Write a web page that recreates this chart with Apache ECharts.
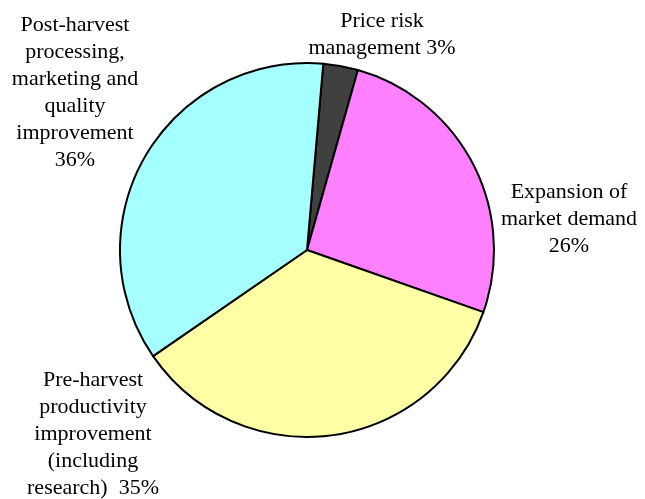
<!DOCTYPE html>
<html>
<head>
<meta charset="utf-8">
<script src="https://cdn.jsdelivr.net/npm/echarts@6/dist/echarts.min.js"></script>
<style>
  html, body { margin: 0; padding: 0; background: #ffffff; }
  #chart { width: 645px; height: 499px; }
</style>
</head>
<body>
<div id="chart"></div>
<script>
// Share of support by area (percent), listed clockwise from the top
const categories = [
  'Price risk\nmanagement',
  'Expansion of\nmarket demand',
  'Pre-harvest\nproductivity\nimprovement\n(including\nresearch)',
  'Post-harvest\nprocessing,\nmarketing and\nquality\nimprovement'
];
const values = [3, 26, 35, 36];
// Text placed between each name and its percentage
const joiners = [' ', '\n', '  ', '\n'];
const colors = ['#404040', '#ff80ff', '#ffffa6', '#a6ffff'];

// Label anchor points (centre x, top y) for each slice's text block
const labelSpots = [
  { x: 382, y: 8 },
  { x: 569, y: 179 },
  { x: 93, y: 367 },
  { x: 75, y: 12 }
];

const chart = echarts.init(document.getElementById('chart'), null, { renderer: 'canvas' });

chart.setOption({
  backgroundColor: '#ffffff',
  animation: false,
  series: [{
    type: 'pie',
    center: [307, 250],
    radius: 187,
    startAngle: 85,
    clockwise: true,
    avoidLabelOverlap: false,
    itemStyle: { borderColor: '#000000', borderWidth: 2 },
    emphasis: { disabled: true },
    label: {
      show: true,
      position: 'outside',
      color: '#000000',
      fontFamily: '"Liberation Serif", "Times New Roman", serif',
      fontSize: 22,
      lineHeight: 27,
      align: 'center',
      formatter: p => p.name + joiners[p.dataIndex] + p.value + '%'
    },
    labelLine: { show: false },
    labelLayout: p => ({
      x: labelSpots[p.dataIndex].x,
      y: labelSpots[p.dataIndex].y,
      align: 'center',
      verticalAlign: 'top'
    }),
    data: categories.map((name, i) => ({
      name: name,
      value: values[i],
      itemStyle: { color: colors[i] }
    }))
  }]
});
</script>
</body>
</html>
